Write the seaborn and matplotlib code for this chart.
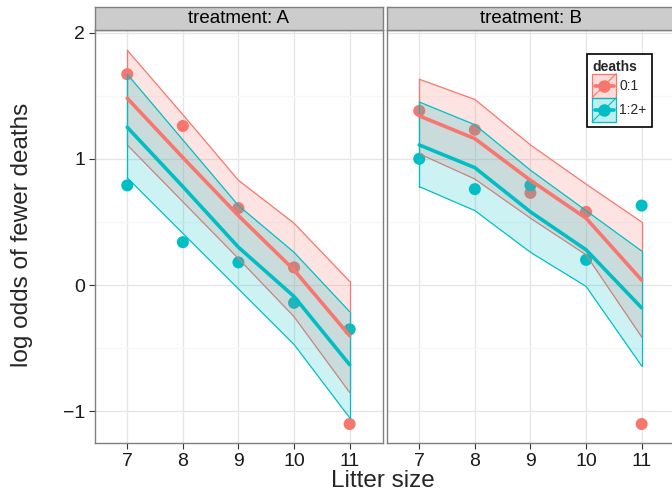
import numpy as np
import pandas as pd
import seaborn as sns
import matplotlib.pyplot as plt
from matplotlib.patches import Rectangle
from matplotlib.lines import Line2D
from matplotlib.legend_handler import HandlerBase
from matplotlib.ticker import MultipleLocator

litter = [7, 8, 9, 10, 11]
groups = ["0:1", "1:2+"]
treatments = ["A", "B"]

# observed log odds (points)
obs_A_01 = [1.67, 1.26, 0.61, 0.14, -1.10]
obs_A_12 = [0.79, 0.34, 0.18, -0.14, -0.35]
obs_B_01 = [1.38, 1.23, 0.73, 0.58, -1.10]
obs_B_12 = [1.00, 0.76, 0.79, 0.20, 0.63]

# fitted values with lower / upper bands
fit_A_01 = [1.48, 1.01, 0.55, 0.12, -0.40]
lo_A_01 = [1.11, 0.66, 0.21, -0.25, -0.85]
hi_A_01 = [1.86, 1.35, 0.83, 0.49, 0.03]
fit_A_12 = [1.25, 0.78, 0.30, -0.09, -0.63]
lo_A_12 = [0.85, 0.41, -0.03, -0.47, -1.05]
hi_A_12 = [1.67, 1.15, 0.63, 0.26, -0.21]

fit_B_01 = [1.34, 1.16, 0.83, 0.53, 0.04]
lo_B_01 = [1.04, 0.84, 0.53, 0.24, -0.41]
hi_B_01 = [1.63, 1.47, 1.11, 0.80, 0.50]
fit_B_12 = [1.11, 0.93, 0.58, 0.28, -0.18]
lo_B_12 = [0.78, 0.59, 0.26, -0.01, -0.64]
hi_B_12 = [1.45, 1.27, 0.91, 0.59, 0.27]

rows = []
series = {
    ("A", "0:1"): (obs_A_01, fit_A_01, lo_A_01, hi_A_01),
    ("A", "1:2+"): (obs_A_12, fit_A_12, lo_A_12, hi_A_12),
    ("B", "0:1"): (obs_B_01, fit_B_01, lo_B_01, hi_B_01),
    ("B", "1:2+"): (obs_B_12, fit_B_12, lo_B_12, hi_B_12),
}
for (trt, grp), (obs, fit, lo, hi) in series.items():
    for i, x in enumerate(litter):
        rows.append(dict(treatment=trt, deaths=grp, litter=x,
                         obs=obs[i], fit=fit[i], lo=lo[i], hi=hi[i]))
df = pd.DataFrame(rows)

palette = {"0:1": "#F8766D", "1:2+": "#00BFC4"}


class RibbonKey:
    def __init__(self, color):
        self.color = color


class RibbonKeyHandler(HandlerBase):
    # ggplot style key: ribbon box, diagonal, line and point
    def create_artists(self, legend, orig_handle, xdescent, ydescent, width,
                       height, fontsize, trans):
        c = orig_handle.color
        x0, y0 = -xdescent, -ydescent
        rect = Rectangle((x0, y0), width, height, facecolor=c, alpha=0.25,
                         edgecolor="none", transform=trans)
        edge = Rectangle((x0, y0), width, height, facecolor="none",
                         edgecolor=c, lw=0.9, transform=trans)
        diag = Line2D([x0, x0 + width], [y0, y0 + height], color=c, lw=0.8,
                      transform=trans)
        ym = y0 + height / 2
        hline = Line2D([x0 + 2, x0 + width - 2], [ym, ym], color=c, lw=2.6,
                       transform=trans)
        pt = Line2D([x0 + width / 2], [ym], marker="o", markersize=9, color=c,
                    markeredgewidth=0, linestyle="none", transform=trans)
        return [rect, edge, diag, hline, pt]


sns.set_theme(style="white")
plt.rcParams['font.family'] = ['Liberation Sans', 'DejaVu Sans']
plt.rcParams['axes.unicode_minus'] = True

fig = plt.figure(figsize=(6.72, 4.93), dpi=100)
W, H = 672, 493


def px_axes(x0, y0, w, h):
    return fig.add_axes([x0 / W, 1 - (y0 + h) / H, w / W, h / H])


panel_x = [95, 387]
for k, trt in enumerate(treatments):
    ax = px_axes(panel_x[k], 30, 288, 413)
    sub = df[df.treatment == trt]

    sns.scatterplot(data=sub, x="litter", y="obs", hue="deaths", palette=palette,
                    s=75, linewidth=0, legend=False, ax=ax, zorder=2)
    for grp in groups:
        g = sub[sub.deaths == grp]
        ax.fill_between(g.litter, g.lo, g.hi, facecolor=palette[grp], alpha=0.2,
                        edgecolor="none", zorder=3)
        ax.plot(g.litter, g.lo, color=palette[grp], lw=0.9, zorder=3)
        ax.plot(g.litter, g.hi, color=palette[grp], lw=0.9, zorder=3)
        ax.plot([7, 7], [g.lo.iloc[0], g.hi.iloc[0]], color=palette[grp], lw=0.9, zorder=3)
        ax.plot([11, 11], [g.lo.iloc[-1], g.hi.iloc[-1]], color=palette[grp], lw=0.9, zorder=3)
    sns.lineplot(data=sub, x="litter", y="fit", hue="deaths", palette=palette,
                 lw=2.6, legend=False, ax=ax, zorder=4)

    ax.set_xlim(6.42, 11.6)
    ax.set_ylim(-1.25, 2.02)
    ax.set_xticks(litter)
    ax.yaxis.set_major_locator(MultipleLocator(1))
    ax.yaxis.set_minor_locator(MultipleLocator(0.5))
    ax.grid(True, which="major", color="#E5E5E5", lw=0.9, zorder=0)
    ax.grid(True, which="minor", axis="y", color="#F7F7F7", lw=0.9, zorder=0)
    ax.set_axisbelow(True)
    for sp in ax.spines.values():
        sp.set_color("#7F7F7F")
        sp.set_linewidth(1.0)
    ax.tick_params(axis="both", which="major", direction="out", length=4,
                   width=0.8, color="#333333", labelsize=14, labelcolor="#1A1A1A",
                   bottom=True, left=(k == 0), pad=3)
    ax.tick_params(which="minor", length=0)
    ax.set_xlabel("")
    ax.set_ylabel("")
    if k == 1:
        ax.set_yticklabels([])

        keys = [RibbonKey(palette[g]) for g in groups]
        leg = ax.legend(keys, groups, title="deaths", loc="upper right",
                        bbox_to_anchor=(0.92, 0.942), borderaxespad=0,
                        handler_map={RibbonKey: RibbonKeyHandler()},
                        fancybox=False, framealpha=1, edgecolor="black",
                        fontsize=10, title_fontsize=10, handlelength=1.75,
                        handleheight=2.3, handletextpad=0.2, labelspacing=0.0,
                        borderpad=0.4)
        leg.get_title().set_fontweight("bold")
        leg._legend_box.align = "left"
        leg.get_frame().set_linewidth(1.2)

    strip = px_axes(panel_x[k], 7, 288, 23)
    strip.set_facecolor("#CCCCCC")
    strip.set_xticks([])
    strip.set_yticks([])
    for sp in strip.spines.values():
        sp.set_color("#7F7F7F")
        sp.set_linewidth(1.0)
    strip.text(0.5, 0.48, f"treatment: {trt}", ha="center", va="center",
               fontsize=13.5, color="black", transform=strip.transAxes)

fig.text(22 / W, 1 - 235 / H, "log odds of fewer deaths", rotation=90,
         ha="center", va="center", fontsize=17.5)
fig.text(383 / W, 1 - 481 / H, "Litter size", ha="center", va="center", fontsize=17.5)

fig.savefig("out.png", dpi=100)
